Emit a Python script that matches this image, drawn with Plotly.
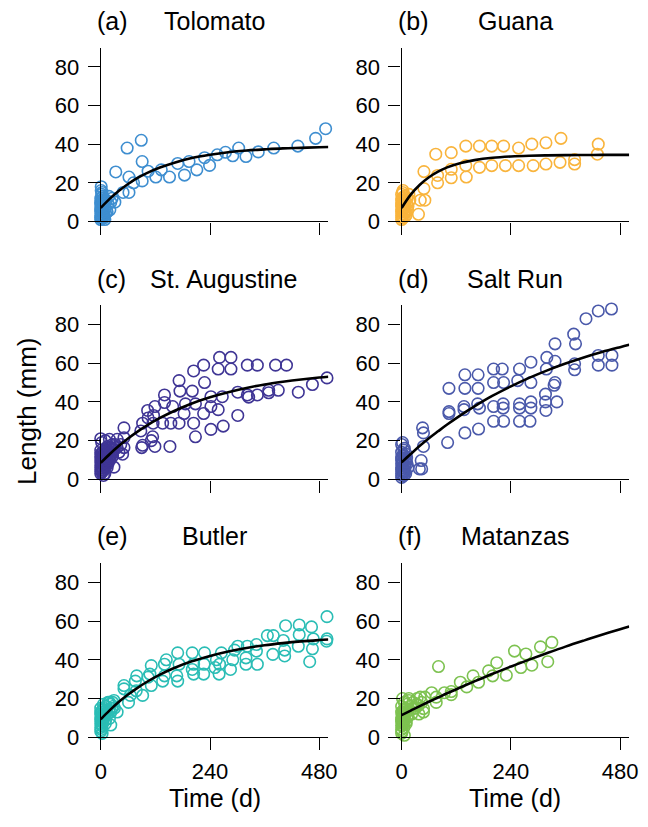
import plotly.graph_objects as go

W, H = 648, 827

# ---------------- data ----------------
panel_labels = ["(a)", "(b)", "(c)", "(d)", "(e)", "(f)"]
site_names = ["Tolomato", "Guana", "St. Augustine", "Salt Run", "Butler", "Matanzas"]
site_colors = ["#3E8ED0", "#F9B43C", "#3F3595", "#4A59AA", "#2ABDB5", "#7DC250"]

tol_t = [494, 472, 433, 380, 346, 319, 303, 290, 274, 256, 239, 228, 211, 194, 184, 169, 151, 133,
         121, 104, 91, 89, 91, 72, 58, 62, 62, 49, 33, 31, 1,
         0, 0, 0, 0, 0, 0, 2, 2, 3, 4, 5, 6, 7, 8, 10, 12, 14, 16, 18, 20, 22, 25, 3, 9, 1,
         0, 0, 0, 1, 1, 2, 3, 4, 5, 6, 7, 8, 9, 10, 11, 2, 4, 6]
tol_len = [48, 43, 39, 38, 36, 33.6, 38, 34, 35.8, 34.5, 29, 33, 26.7, 31, 24, 30, 23, 26.7,
           23, 26, 31, 42, 21, 20, 38, 23, 15, 15, 25.6, 10, 18,
           1, 3, 5, 7, 9, 12, 2, 14, 6, 10, 4, 8, 12, 3, 7, 11, 5, 9, 13, 6, 10, 12, 15, 1, 16,
           2, 6, 10, 4, 8, 12, 3, 7, 11, 5, 9, 2, 6, 10, 4, 8, 13, 11]

gua_t = [432, 430, 380, 380, 350, 348, 317, 317, 286, 289, 257, 257, 224, 228, 198, 198, 171, 171,
         141, 141, 142, 109, 109, 109, 75, 79, 79, 49, 49, 51, 41, 37,
         0, 0, 0, 0, 0, 0, 1, 2, 3, 4, 5, 6, 7, 8, 10, 12, 14, 16, 18, 3, 9, 2,
         0, 0, 1, 1, 2, 3, 4, 5, 6, 7, 8, 9, 11, 13]
gua_len = [40, 34.8, 32, 29.7, 43, 30.6, 40.7, 29.7, 40, 28.9, 38, 28.9, 39, 28.9, 39, 28.9, 39, 28,
           39, 28.9, 23, 35.6, 27, 22.6, 34.8, 23.8, 20, 25.8, 17, 11, 11, 3.7,
           1, 3, 5, 8, 11, 14, 2, 12, 6, 9, 4, 13, 7, 10, 5, 12, 8, 14, 11, 16, 3, 15,
           6, 9, 4, 12, 7, 10, 2, 8, 11, 5, 13, 3, 9, 6]

sta_t = [497, 465, 434, 408, 384, 390, 369, 369, 344, 322, 344, 322, 325, 301, 301, 286, 261, 286,
         258, 267, 269, 242, 242, 258, 242, 226, 228, 226, 204, 208, 201, 208, 204, 186, 183, 172,
         174, 172, 154, 152, 158, 140, 140, 136, 119, 116, 115, 114, 111, 119, 103, 104, 92, 88,
         92, 90, 51, 51, 51, 36, 36, 29, 19, 19, 29,
         0, 0, 0, 0, 0, 0, 0, 1, 2, 2, 3, 3, 4, 5, 5, 6, 7, 8, 9, 10, 11, 12, 13, 14, 15, 16,
         18, 20, 22, 24, 26, 28, 30, 2, 6, 10,
         0, 1, 1, 2, 3, 4, 4, 5, 6, 7, 8, 9, 10, 12, 14, 16, 18, 20, 23, 26, 32, 40, 44, 48]
sta_len = [52.4, 49, 45, 59, 59, 46, 46, 44.7, 59, 59, 43.6, 43.6, 42.5, 45, 33, 63, 63, 57,
           57, 42.7, 27.5, 25.8, 42.7, 36, 37.6, 59, 50, 34, 56, 22, 45.6, 39, 29, 39, 34, 51,
           45.6, 29, 29, 17, 37.6, 43.6, 39.7, 29, 37.6, 33, 29, 22, 20, 17, 35.6, 31.7, 29, 25,
           17.6, 16.4, 26.6, 21.5, 16.4, 20.7, 16.4, 15.6, 20.7, 16.4, 6.3,
           3, 5, 7, 9, 11, 13, 15, 4, 8, 12, 6, 10, 14, 5, 9, 11, 7, 13, 3, 10, 15, 8, 12, 6, 17, 9,
           14, 11, 16, 13, 18, 15, 17, 19, 2, 20, 21,
           10, 6, 12, 8, 14, 4, 10, 7, 12, 9, 15, 6, 11, 13, 8, 12, 10, 14, 12, 18, 14, 18, 13, 15]

sal_t = [461, 432, 405, 378, 382, 337, 319, 337, 318, 337, 335, 341, 316, 316, 317, 380, 380, 432,
         432, 462, 462, 284, 284, 284, 284, 282, 259, 255, 259, 259, 259, 221, 202, 202, 224, 202,
         223, 223, 202, 224, 168, 139, 139, 168, 171, 167, 137, 137, 139, 169, 104, 104, 104, 101,
         46, 48, 48, 43, 44, 39,
         0, 0, 0, 0, 0, 0, 0, 1, 2, 3, 4, 5, 6, 7, 8, 9, 10, 12, 14, 2, 5, 11,
         0, 0, 1, 1, 2, 3, 4, 5, 6, 7, 8, 10]
sal_len = [88, 87, 83, 75, 70, 70, 63, 61, 57, 50, 48.6, 40, 44, 40, 35.6, 59.7, 56.6, 64,
           59, 64, 59, 60.5, 50, 40, 36.8, 30, 57, 51, 39, 36.8, 30, 57, 57, 50, 50, 37.6,
           39, 36.8, 30, 30, 54, 54, 47, 47, 36.8, 39, 37.6, 36, 24, 26, 47, 35, 34, 19,
           26.6, 24, 17, 9.7, 5.4, 5.4,
           1, 3, 5, 8, 11, 14, 18, 2, 6, 9, 12, 4, 16, 7, 10, 3, 13, 8, 6, 19, 15, 11,
           6, 10, 4, 12, 8, 5, 9, 2, 7, 12, 4, 9]

but_t = [497, 497, 496, 463, 467, 465, 459, 436, 436, 434, 406, 401, 404, 404, 379, 378, 366, 342,
         342, 344, 322, 319, 319, 301, 294, 290, 285, 265, 261, 260, 254, 251, 228, 227, 226, 204,
         201, 201, 204, 172, 169, 167, 169, 144, 140, 140, 136, 111, 108, 111, 104, 79, 76, 92, 78,
         65, 51, 51, 61, 36, 29, 19, 22, 19,
         0, 0, 0, 0, 0, 0, 1, 2, 3, 4, 5, 6, 7, 8, 10, 12, 14, 16, 18, 20, 24, 28, 3, 9,
         0, 0, 1, 2, 3, 5, 6, 8, 11, 13, 15, 22, 26, 30]
but_len = [62.3, 50.8, 49.6, 57, 50.8, 45.7, 39, 58, 53, 47, 57.6, 50, 45, 42, 52.5, 42.8, 52.5, 47.9,
           44.5, 37.7, 47, 41, 37.7, 47, 45, 40, 35, 43.6, 37.7, 32.6, 40, 36, 43.6, 37.7, 32.6, 37.7,
           43.6, 35, 32.6, 37.7, 43.6, 31.7, 29, 40, 37.7, 31.7, 29, 37, 32.6, 26.7, 31, 31.7, 29, 21.6, 24,
           21.6, 26.7, 25, 18, 13, 19, 18, 6.3, 9.7,
           3, 5, 7, 9, 12, 15, 4, 11, 6, 14, 8, 17, 10, 13, 7, 16, 12, 18, 14, 17, 15, 16, 2, 11,
           10, 13, 8, 6, 9, 12, 15, 11, 9, 14, 12, 13, 18, 15]

mat_t = [330, 305, 321, 286, 273, 248, 262, 230, 209, 191, 200, 169, 157, 143, 129, 81, 109, 109,
         94, 76, 76, 66, 51, 48, 48, 41, 34, 16, 37,
         0, 0, 0, 0, 0, 0, 0, 1, 2, 3, 4, 5, 6, 7, 8, 9, 10, 12, 14, 16, 18, 20, 22, 25, 28, 2, 6,
         0, 1, 2, 3, 4, 5, 6, 8, 10, 12, 30, 33, 38, 44]
mat_len = [49, 46.7, 39, 37.2, 43, 44.5, 36, 32, 38.5, 34.3, 31.7, 28.4, 31.7, 26, 28.4, 36.5, 22, 23.6,
           23, 20.7, 18, 23, 20.7, 14.8, 13, 20.7, 20, 20, 16.5,
           2, 4, 6, 8, 10, 13, 16, 3, 11, 7, 14, 5, 18, 9, 12, 15, 8, 17, 11, 19, 14, 16, 12, 18, 15, 20, 1,
           9, 12, 6, 10, 13, 8, 11, 14, 7, 10, 15, 17, 12, 18]

fit_t = [0, 20, 40, 60, 80, 100, 130, 160, 200, 240, 280, 320, 360, 400, 440, 480, 500]
tol_fit = [7.0, 11.8, 15.9, 19.4, 22.4, 24.9, 27.9, 30.3, 32.8, 34.5, 35.8, 36.7, 37.3, 37.8, 38.1, 38.4, 38.5]
gua_fit = [7.0, 13.9, 19.0, 22.9, 25.8, 28.0, 30.3, 31.75, 32.96, 33.63, 34.0, 34.2, 34.35, 34.41, 34.45, 34.47, 34.48]
sta_fit = [8.5, 13.1, 17.3, 21.1, 24.5, 27.6, 31.7, 35.2, 39.2, 42.4, 45.0, 47.2, 49.0, 50.4, 51.6, 52.6, 53.0]
sal_fit = [8.8, 13.1, 17.3, 21.2, 24.8, 28.3, 33.2, 37.7, 43.2, 48.0, 52.4, 56.3, 59.8, 63.0, 65.8, 68.3, 69.5]
but_fit = [9.3, 14.0, 18.3, 22.05, 25.4, 28.4, 32.3, 35.6, 39.2, 42.0, 44.3, 46.1, 47.5, 48.6, 49.5, 50.2, 50.5]
mat_fit = [11.4, 13.75, 16.1, 18.3, 20.5, 22.7, 25.8, 28.85, 32.8, 36.5, 40.1, 43.5, 46.8, 49.9, 52.9, 55.8, 57.2]

x_ticks = [0, 240, 480]
y_ticks = [0, 20, 40, 60, 80]

obs_t = [tol_t, gua_t, sta_t, sal_t, but_t, mat_t]
obs_len = [tol_len, gua_len, sta_len, sal_len, but_len, mat_len]
fits = [tol_fit, gua_fit, sta_fit, sal_fit, but_fit, mat_fit]

# ---------------- layout geometry (pixels) ----------------
col_x = [(97, 330), (405, 638)]
row_y = [(48.3, 225), (310, 487), (572, 749)]
title_dx = [0, 0, 9, 0, 0, 0]

FONT = "Liberation Sans, Arial, Helvetica, sans-serif"
TICK_SIZE = 22
TITLE_SIZE = 25
AXTITLE_SIZE = 25

fig = go.Figure()
annotations = []
layout = dict(width=W, height=H, margin=dict(l=0, r=0, t=0, b=0),
              paper_bgcolor="white", plot_bgcolor="white", showlegend=False,
              font=dict(family=FONT, size=TICK_SIZE, color="black"))

for i in range(6):
    r, c = divmod(i, 2)
    n = i + 1
    xa = "x" if n == 1 else f"x{n}"
    ya = "y" if n == 1 else f"y{n}"
    x0, x1 = col_x[c]
    ytop, ybot = row_y[r]
    layout[f"xaxis{'' if n == 1 else n}"] = dict(
        domain=[x0 / W, x1 / W], range=[0, 500], anchor=ya,
        showline=True, linecolor="black", linewidth=1.4,
        ticks="outside", ticklen=12, tickwidth=1.4, tickcolor="black",
        tickvals=x_ticks, ticktext=[str(v) for v in x_ticks],
        showticklabels=(r == 2), showgrid=False, zeroline=False,
        tickfont=dict(size=TICK_SIZE), ticklabelstandoff=2,
    )
    layout[f"yaxis{'' if n == 1 else n}"] = dict(
        domain=[1 - ybot / H, 1 - ytop / H], range=[0, 90], anchor=xa,
        showline=True, linecolor="black", linewidth=1.4,
        ticks="outside", ticklen=12, tickwidth=1.4, tickcolor="black",
        tickvals=y_ticks, ticktext=[str(v) for v in y_ticks],
        showgrid=False, zeroline=False, tickfont=dict(size=TICK_SIZE), ticklabelstandoff=4,
    )
    fig.add_trace(go.Scatter(
        x=obs_t[i], y=obs_len[i], mode="markers", xaxis=xa, yaxis=ya, cliponaxis=False,
        marker=dict(symbol="circle-open", size=11.5, color=site_colors[i], line=dict(width=1.6)),
    ))
    fig.add_trace(go.Scatter(
        x=fit_t, y=fits[i], mode="lines", xaxis=xa, yaxis=ya, cliponaxis=False,
        line=dict(color="black", width=2.6, shape="spline"),
    ))
    ty = ytop - 27
    annotations.append(dict(text=panel_labels[i], x=(x0 - 6) / W, y=1 - ty / H, xref="paper", yref="paper",
                            xanchor="left", yanchor="middle", showarrow=False, font=dict(size=TITLE_SIZE)))
    annotations.append(dict(text=site_names[i], x=((x0 + x1) / 2 + title_dx[i]) / W, y=1 - ty / H,
                            xref="paper", yref="paper", xanchor="center", yanchor="middle",
                            showarrow=False, font=dict(size=TITLE_SIZE)))

annotations.append(dict(text="Length (mm)", x=22 / W, y=1 - 418 / H, xref="paper", yref="paper",
                        textangle=-90, xanchor="center", yanchor="middle", showarrow=False,
                        font=dict(size=AXTITLE_SIZE + 1)))
for c in range(2):
    x0, x1 = col_x[c]
    annotations.append(dict(text="Time (d)", x=((x0 + x1) / 2) / W, y=0, xref="paper",
                            yref="paper", xanchor="center", yanchor="bottom", showarrow=False,
                            font=dict(size=AXTITLE_SIZE)))

layout["annotations"] = annotations
fig.update_layout(**layout)
fig.write_html("out.html")
